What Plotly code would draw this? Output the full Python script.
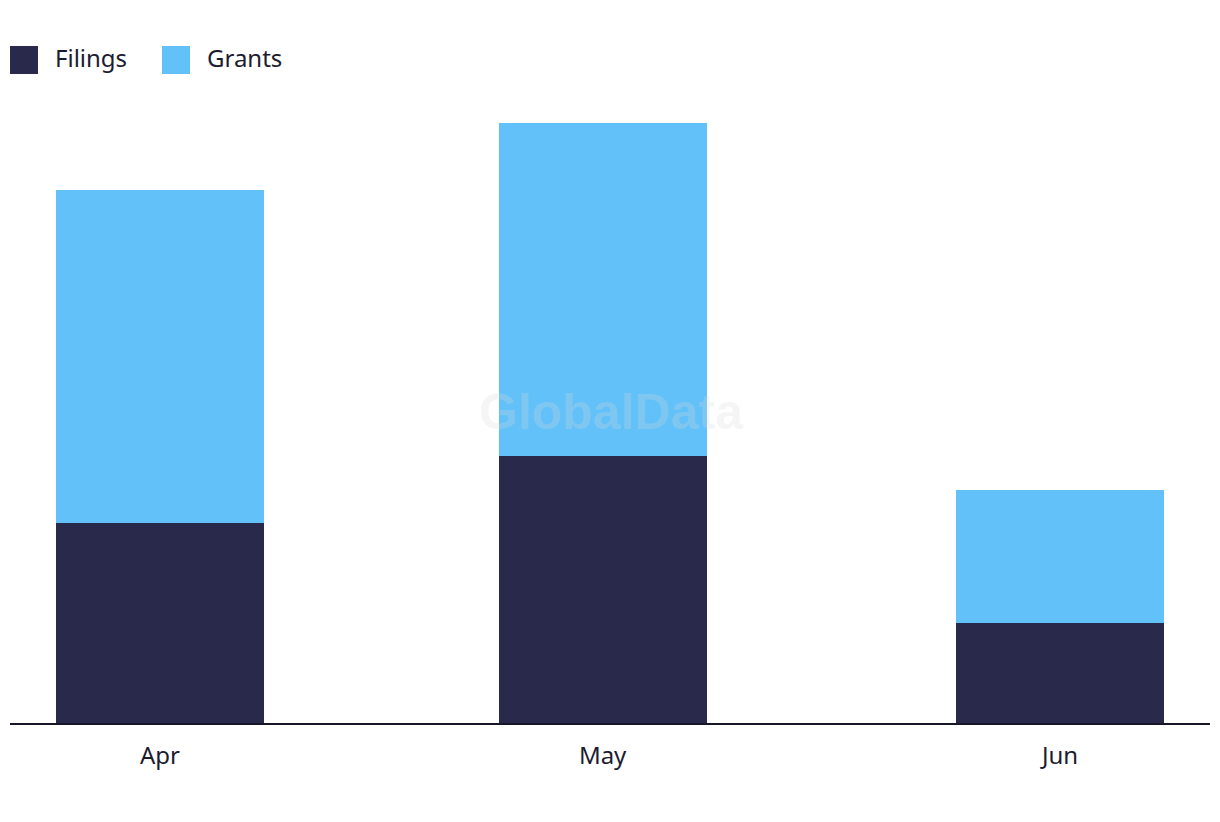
import plotly.graph_objects as go

months = ["2023-04-01", "2023-05-01", "2023-06-01"]
month_labels = ["Apr", "May", "Jun"]
filings = [6, 8, 3]
grants = [10, 10, 4]

FILINGS_COLOR = "#29294b"
GRANTS_COLOR = "#62c1f9"
TEXT_COLOR = "#1c1c30"
FONT = "Noto Sans"

bar_width_ms = 14.1 * 86400000

fig = go.Figure()
fig.add_trace(go.Bar(x=months, y=filings, name="Filings", marker_color=FILINGS_COLOR,
                     width=bar_width_ms, marker_line_width=0))
fig.add_trace(go.Bar(x=months, y=grants, name="Grants", marker_color=GRANTS_COLOR,
                     width=bar_width_ms, marker_line_width=0))

W, H = 1220, 822
OFF = 8  # page body margin
L, R, T, B = 2, 18, 82, 107
pw, ph = W - L - R, H - T - B

def px_x(px):
    return (px - OFF - L) / pw

def px_y(py):
    return (H - B - (py - OFF)) / ph

shapes = []
annotations = []
legend_items = [("Filings", FILINGS_COLOR, 10, 53), ("Grants", GRANTS_COLOR, 162, 205)]
for name, col, sx, tx in legend_items:
    shapes.append(dict(type="rect", xref="paper", yref="paper",
                       x0=px_x(sx), x1=px_x(sx + 28), y0=px_y(74), y1=px_y(46),
                       fillcolor=col, line_width=0))
    annotations.append(dict(text=name, xref="paper", yref="paper", x=px_x(tx), y=px_y(57),
                            xanchor="left", yanchor="middle", showarrow=False,
                            font=dict(family=FONT, size=24, color=TEXT_COLOR)))

annotations.append(dict(text="<b>GlobalData</b>", xref="paper", yref="paper",
                        x=px_x(611), y=px_y(412), xanchor="center", yanchor="middle",
                        showarrow=False,
                        font=dict(family="Liberation Sans", size=50, color="rgba(215,215,215,0.25)")))

fig.update_layout(
    width=W, height=H,
    margin=dict(l=L, r=R, t=T, b=B, pad=0),
    barmode="stack",
    showlegend=False,
    plot_bgcolor="white", paper_bgcolor="white",
    font=dict(family=FONT, size=24, color=TEXT_COLOR),
    shapes=shapes,
    annotations=annotations,
    xaxis=dict(
        type="date",
        range=["2023-03-21 20:00", "2023-06-11 04:00"],
        tickvals=months, ticktext=month_labels,
        showgrid=False, zeroline=False,
        showline=True, linecolor="#161628", linewidth=2,
        ticks="outside", ticklen=10, tickcolor="rgba(0,0,0,0)",
        tickfont=dict(family=FONT, size=24, color=TEXT_COLOR),
    ),
    yaxis=dict(range=[0, 19], visible=False, showgrid=False, zeroline=False),
)

fig.write_html("out.html")
